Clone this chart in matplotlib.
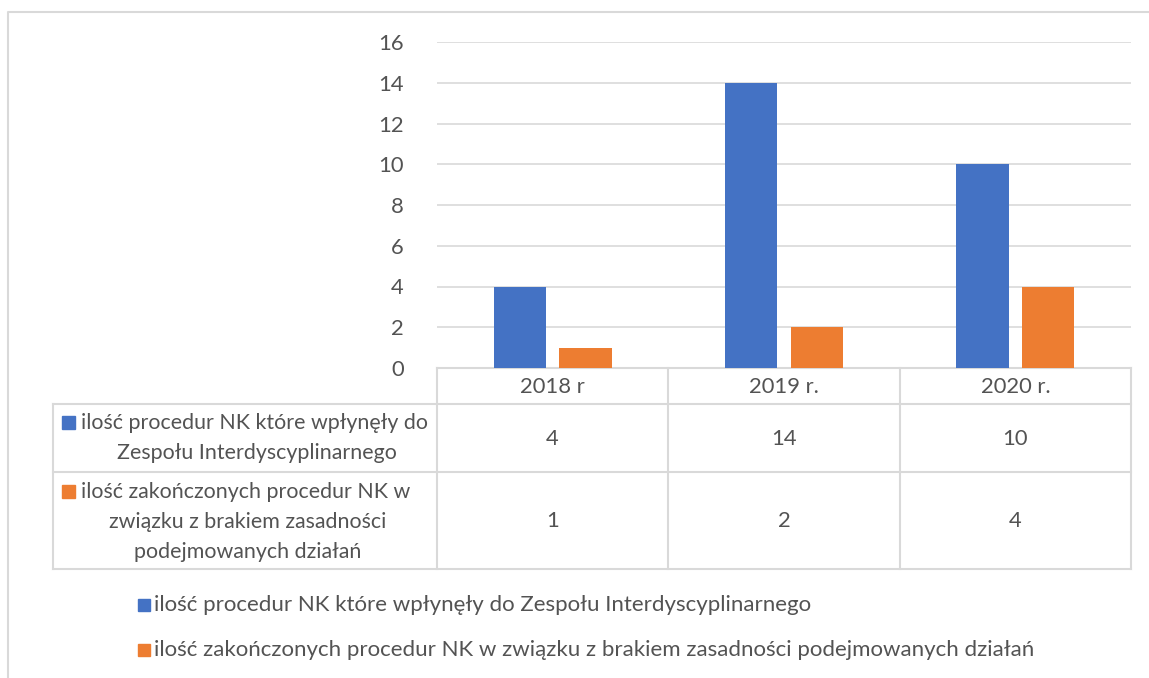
import matplotlib.pyplot as plt
from matplotlib.patches import Rectangle

plt.rcParams['font.family'] = ['Lato', 'DejaVu Sans']

categories = ['2018 r', '2019 r.', '2020 r.']
received = [4, 14, 10]
closed = [1, 2, 4]
series_names = ['ilość procedur NK które wpłynęły do Zespołu Interdyscyplinarnego',
                'ilość zakończonych procedur NK w związku z brakiem zasadności podejmowanych działań']
row_lines = [['ilość procedur NK które wpłynęły do', 'Zespołu Interdyscyplinarnego'],
             ['ilość zakończonych procedur NK w', 'związku z brakiem zasadności',
              'podejmowanych działań']]
yticks = [0, 2, 4, 6, 8, 10, 12, 14, 16]

blue = '#4472C4'
orange = '#ED7D31'
grid = '#D9D9D9'
txt = '#535353'
W, H = 1149, 678

fig = plt.figure(figsize=(W / 100, H / 100), dpi=100)

# overlay in pixel coordinates for border, table and legend
bg = fig.add_axes([0, 0, 1, 1])
bg.set_xlim(0, W)
bg.set_ylim(H, 0)
bg.axis('off')

# chart border
bg.plot([8, 8, W + 5], [H + 5, 12, 12], color=grid, lw=1.5)

# main bar axes
x0, x1, ytop, ybot = 437, 1131, 42, 368
ax = fig.add_axes([x0 / W, 1 - ybot / H, (x1 - x0) / W, (ybot - ytop) / H])
ax.patch.set_alpha(0)
xs = range(len(categories))
w = 0.225
ax.bar([x - 0.142 for x in xs], received, width=w, color=blue, zorder=3)
ax.bar([x + 0.142 for x in xs], closed, width=w, color=orange, zorder=3)
ax.set_xlim(-0.5, len(categories) - 0.5)
ax.set_ylim(0, 16)
ax.set_yticks(yticks)
fs = 15.8
ax.set_yticklabels([str(t) for t in yticks], fontsize=fs, color=txt)
ax.set_xticks([])
ax.yaxis.grid(True, color=grid, lw=1.2)
ax.set_axisbelow(True)
ax.tick_params(axis='y', length=0, pad=24)
for s in ax.spines.values():
    s.set_visible(False)

# data table
colw = (x1 - x0) / len(categories)
rows_y = [368, 404, 472, 569]
lc = dict(color=grid, lw=1.5)
bg.plot([x0, x1], [rows_y[0], rows_y[0]], **lc)
bg.plot([53, x1], [rows_y[1], rows_y[1]], **lc)
bg.plot([53, x1], [rows_y[2], rows_y[2]], **lc)
bg.plot([53, x1], [rows_y[3], rows_y[3]], **lc)
bg.plot([53, 53], [rows_y[1], rows_y[3]], **lc)
for i in range(len(categories) + 1):
    xv = x0 + i * colw
    bg.plot([xv, xv], [rows_y[0], rows_y[3]], **lc)

for i, c in enumerate(categories):
    cx = x0 + (i + 0.5) * colw
    bg.text(cx, 387, c, ha='center', va='center', fontsize=fs, color=txt)
    bg.text(cx, 439, str(received[i]), ha='center', va='center', fontsize=fs, color=txt)
    bg.text(cx, 521, str(closed[i]), ha='center', va='center', fontsize=fs, color=txt)

fs_row = 15.4
row_tops = [423, 492]
row_centers = [257, 248]
for r, (lines, col) in enumerate(zip(row_lines, [blue, orange])):
    y = row_tops[r]
    bg.add_patch(Rectangle((62, y - 7), 13, 13, color=col))
    bg.text(81, y, lines[0], ha='left', va='center', fontsize=fs_row, color=txt)
    for j, ln in enumerate(lines[1:]):
        bg.text(row_centers[r], y + 30 * (j + 1), ln, ha='center', va='center',
                fontsize=fs_row, color=txt)

# legend
for k, (name, col) in enumerate(zip(series_names, [blue, orange])):
    y = 605 + 45 * k
    bg.add_patch(Rectangle((138, y - 6), 12, 12, color=col))
    bg.text(154, y, name, ha='left', va='center', fontsize=16, color=txt)

fig.savefig('out.png', dpi=100)
